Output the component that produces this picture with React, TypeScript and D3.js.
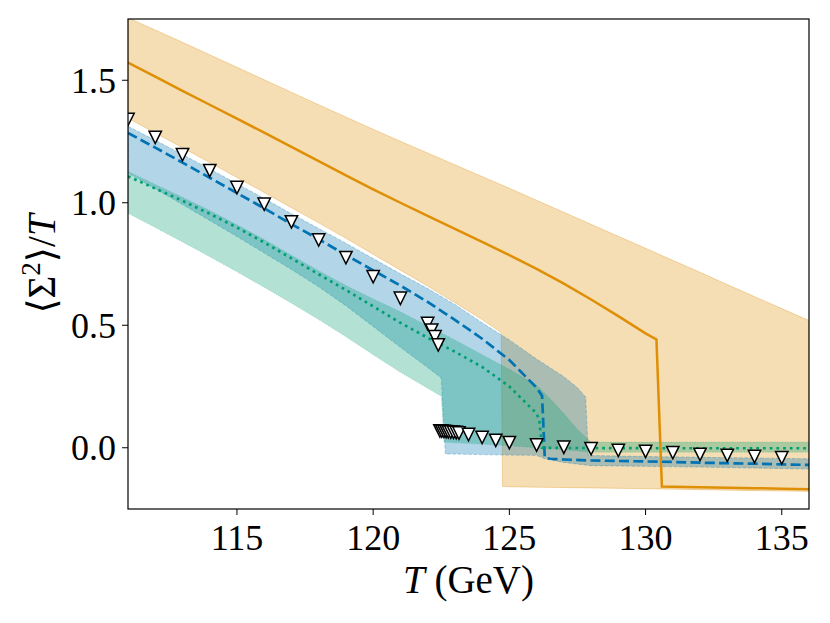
import * as d3 from "d3";

// orange (solid) model
const orangeT = [111, 112, 113, 114, 115, 116, 117, 118, 119, 120, 121, 122, 123, 124, 125, 126, 127, 128, 129, 130, 130.4, 130.6, 131, 132, 133, 134, 135, 136];
const orangeLine = [1.572, 1.515, 1.457, 1.4, 1.343, 1.286, 1.228, 1.17, 1.112, 1.055, 1.0, 0.946, 0.893, 0.84, 0.786, 0.73, 0.67, 0.605, 0.537, 0.467, 0.442, -0.158, -0.159, -0.161, -0.163, -0.165, -0.167, -0.169];
const orangeUpT = [111, 112, 113, 114, 115, 116, 117, 118, 119, 120, 121, 122, 123, 124, 125, 126, 127, 128, 129, 130, 131, 132, 133, 134, 135, 136];
const orangeUp = [1.755, 1.705, 1.655, 1.604, 1.553, 1.502, 1.451, 1.4, 1.35, 1.3, 1.251, 1.203, 1.155, 1.107, 1.059, 1.01, 0.961, 0.912, 0.863, 0.814, 0.765, 0.716, 0.666, 0.617, 0.568, 0.519];
const orangeLoT = [111, 112, 113, 114, 115, 116, 117, 118, 119, 120, 121, 122, 123, 124, 124.7, 124.75, 125, 126, 128, 130, 132, 134, 136];
const orangeLo = [1.345, 1.285, 1.225, 1.164, 1.103, 1.042, 0.98, 0.918, 0.855, 0.79, 0.725, 0.66, 0.592, 0.523, 0.47, -0.158, -0.159, -0.161, -0.164, -0.167, -0.171, -0.175, -0.178];

// blue (dashed) model
const blueT = [111, 112, 113, 114, 115, 116, 117, 118, 119, 120, 121, 122, 123, 124, 125, 126, 126.2, 126.3, 126.5, 127, 128, 129, 130, 131, 132, 133, 134, 135, 136];
const blueLine = [1.285, 1.225, 1.164, 1.102, 1.04, 0.977, 0.913, 0.851, 0.787, 0.724, 0.662, 0.595, 0.522, 0.445, 0.358, 0.245, 0.212, -0.04, -0.045, -0.048, -0.052, -0.054, -0.056, -0.058, -0.061, -0.063, -0.065, -0.068, -0.07];
const blueUpT = [111, 112, 113, 114, 115, 116, 117, 118, 119, 120, 121, 122, 123, 124, 125, 126, 127, 127.5, 127.8, 127.9, 128, 130, 132, 134, 136];
const blueUp = [1.312, 1.255, 1.197, 1.138, 1.078, 1.017, 0.955, 0.895, 0.835, 0.772, 0.71, 0.65, 0.585, 0.51, 0.44, 0.362, 0.29, 0.245, 0.207, -0.031, -0.032, -0.036, -0.039, -0.042, -0.045];
const blueLoT = [111, 112, 113, 114, 115, 116, 117, 118, 119, 120, 121, 122, 122.5, 122.65, 123, 124, 125, 126, 126.3, 127, 128, 130, 132, 134, 136];
const blueLo = [1.121, 1.057, 0.993, 0.928, 0.862, 0.795, 0.728, 0.657, 0.58, 0.495, 0.41, 0.328, 0.285, -0.025, -0.026, -0.028, -0.03, -0.031, -0.045, -0.06, -0.073, -0.076, -0.079, -0.083, -0.087];

// green (dotted) model
const greenT = [111, 112, 113, 114, 115, 116, 117, 118, 119, 120, 121, 122, 123, 124, 125, 126, 126.1, 126.2, 127, 128, 130, 132, 134, 136];
const greenLine = [1.108, 1.058, 1.008, 0.955, 0.899, 0.838, 0.773, 0.708, 0.644, 0.577, 0.51, 0.449, 0.392, 0.33, 0.25, 0.14, 0.112, 0.0, -0.001, -0.001, -0.002, -0.002, -0.002, -0.002];
const greenUpT = [111, 112, 113, 114, 115, 116, 117, 118, 119, 120, 121, 122, 123, 124, 125, 126, 126.5, 127, 127.5, 128, 130, 132, 134, 136];
const greenUp = [1.128, 1.075, 1.022, 0.968, 0.91, 0.85, 0.786, 0.722, 0.662, 0.607, 0.555, 0.497, 0.44, 0.38, 0.32, 0.255, 0.2, 0.14, 0.075, 0.023, 0.023, 0.023, 0.023, 0.023];
const greenLoT = [111, 112, 113, 114, 115, 116, 117, 118, 119, 120, 121, 122, 122.5, 122.6, 123, 124, 125, 126, 127, 128, 130, 132, 134, 136];
const greenLo = [0.957, 0.899, 0.84, 0.78, 0.718, 0.655, 0.59, 0.523, 0.453, 0.38, 0.308, 0.243, 0.21, 0.023, 0.02, 0.015, 0.008, 0.0, -0.008, -0.018, -0.018, -0.018, -0.018, -0.018];

// lattice points (open down-triangles)
const latT = [111, 112, 113, 114, 115, 116, 117, 118, 119, 120, 121, 122, 122.15, 122.27, 122.39, 122.45, 122.52, 122.6, 122.68, 122.76, 122.85, 122.95, 123.05, 123.15, 123.5, 124, 124.5, 125, 126, 127, 128, 129, 130, 131, 132, 133, 134, 135];
const latV = [1.34, 1.267, 1.196, 1.131, 1.062, 0.994, 0.922, 0.848, 0.776, 0.698, 0.61, 0.507, 0.48, 0.453, 0.42, 0.069, 0.068, 0.067, 0.066, 0.065, 0.064, 0.063, 0.062, 0.06, 0.054, 0.042, 0.03, 0.021, 0.011, 0.002, -0.004, -0.011, -0.015, -0.02, -0.027, -0.031, -0.036, -0.041];

const xTicks = [115, 120, 125, 130, 135];
const yTicks = [0, 0.5, 1.0, 1.5];

const ORANGE = "#de8f05";
const BLUE = "#0173b2";
const GREEN = "#029e73";
const FONT = "'Liberation Serif', 'DejaVu Serif', serif";

export default function App() {
    const width = 830, height = 623;
    const left = 128, right = 809, top = 19, bottom = 509;

    const x = d3.scaleLinear().domain([111, 136]).range([left, right]);
    const y = d3.scaleLinear().domain([-0.25, 1.75]).range([bottom, top]);

    const curve = (ts: number[], vs: number[]) =>
        d3.line<number>().x((_, i) => x(ts[i])).y(d => y(d))(vs) || "";

    const band = (tu: number[], vu: number[], tl: number[], vl: number[]) => {
        const pts: [number, number][] = [
            ...tu.map((t, i) => [x(t), y(vu[i])] as [number, number]),
            ...tl.map((t, i) => [x(t), y(vl[i])] as [number, number]).reverse()
        ];
        return (d3.line()(pts) || "") + "Z";
    };

    const tri = "M-6.2,-6.2L6.2,-6.2L0,6.2Z";

    return (
        <svg width={width} height={height} style={{position: "absolute", left: 0, top: 0, background: "#fff"}}
             fontFamily={FONT}>
            <defs>
                <clipPath id="plot">
                    <rect x={left} y={top} width={right - left} height={bottom - top}/>
                </clipPath>
            </defs>
            <g clipPath="url(#plot)">
                {/* uncertainty bands */}
                <path d={band(orangeUpT, orangeUp, orangeLoT, orangeLo)} fill={ORANGE} fillOpacity={0.3}
                      stroke={ORANGE} strokeOpacity={0.3} strokeWidth={1}/>
                <path d={band(blueUpT, blueUp, blueLoT, blueLo)} fill={BLUE} fillOpacity={0.3}
                      stroke={BLUE} strokeOpacity={0.3} strokeWidth={1} strokeDasharray="3.7,1.6"/>
                <path d={band(greenUpT, greenUp, greenLoT, greenLo)} fill={GREEN} fillOpacity={0.3}
                      stroke={GREEN} strokeOpacity={0.3} strokeWidth={1} strokeDasharray="1,1.65"/>

                {/* central curves */}
                <path d={curve(orangeT, orangeLine)} fill="none" stroke={ORANGE} strokeWidth={2.5}/>
                <path d={curve(blueT, blueLine)} fill="none" stroke={BLUE} strokeWidth={2.7}
                      strokeDasharray="10,4.3"/>
                <path d={curve(greenT, greenLine)} fill="none" stroke={GREEN} strokeWidth={2.7}
                      strokeDasharray="2.7,4"/>

                {latT.map((t, i) => (
                    <path key={i} d={tri} transform={`translate(${x(t)},${y(latV[i])})`}
                          fill="#fff" stroke="#000" strokeWidth={1.5} strokeLinejoin="miter"/>
                ))}
            </g>

            {/* frame */}
            <rect x={left} y={top} width={right - left} height={bottom - top} fill="none" stroke="#000"
                  strokeWidth={1.2}/>

            {xTicks.map(t => (
                <g key={t} transform={`translate(${x(t)},${bottom})`}>
                    <line y2={6} stroke="#000" strokeWidth={1}/>
                    <text y={41} textAnchor="middle" fontSize={36}>{t}</text>
                </g>
            ))}
            {yTicks.map(v => (
                <g key={v} transform={`translate(${left},${y(v)})`}>
                    <line x2={-6} stroke="#000" strokeWidth={1}/>
                    <text x={-12} dy="0.34em" textAnchor="end" fontSize={36}>{v.toFixed(1)}</text>
                </g>
            ))}

            <text x={(left + right) / 2} y={593} textAnchor="middle" fontSize={39}>
                <tspan fontStyle="italic">T</tspan>
                <tspan> (GeV)</tspan>
            </text>
            <text transform={`translate(55,${(top + bottom) / 2}) rotate(-90)`} textAnchor="middle" fontSize={39}>
                <tspan>⟨Σ</tspan>
                <tspan fontSize={27} dy={-15}>2</tspan>
                <tspan dy={15}>⟩/</tspan>
                <tspan fontStyle="italic">T</tspan>
            </text>
        </svg>
    );
}
